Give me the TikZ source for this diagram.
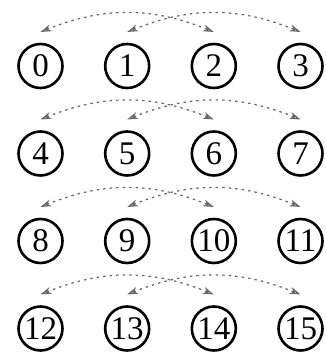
\documentclass[tikz,border=0pt]{standalone}
\usepackage{fontspec}
\setmainfont{Liberation Serif}
\usetikzlibrary{arrows.meta,calc}
\begin{document}
\begin{tikzpicture}[x=1pt,y=1pt,
  proc/.style={circle,draw=black,line width=2.6pt,minimum size=44pt,inner sep=0pt,
    font=\fontsize{33}{33}\selectfont},
  xtip/.style={Stealth[length=11pt,width=7pt,open,line width=1.2pt,sep=0pt]},
  xchg/.style={draw=black!60,line width=1.2pt,dash pattern=on 2.5pt off 4pt,
    {Stealth[length=11pt,width=7pt,open,line width=1.2pt]}-{Stealth[length=11pt,width=7pt,open,line width=1.2pt]},
    bend left=22}]
\useasboundingbox (0,0) rectangle (326,356);
\foreach \r in {0,1,2,3}{
  \foreach \c in {0,1,2,3}{
    \pgfmathtruncatemacro{\n}{4*\r+\c}
    \pgfmathsetmacro{\px}{40.5+86.67*\c}
    \pgfmathsetmacro{\py}{290-87.5*\r}
    \node[proc] (n\n) at (\px,\py) {\n};
    \coordinate (a\n) at ($(n\n.center)+(0,34)$);
  }
}
\foreach \r in {0,1,2,3}{
  \pgfmathtruncatemacro{\p}{4*\r}
  \pgfmathtruncatemacro{\q}{4*\r+1}
  \pgfmathtruncatemacro{\s}{4*\r+2}
  \pgfmathtruncatemacro{\t}{4*\r+3}
  \draw[xchg] (a\p) to (a\s);
  \draw[xchg] (a\q) to (a\t);
}
\end{tikzpicture}
\end{document}
